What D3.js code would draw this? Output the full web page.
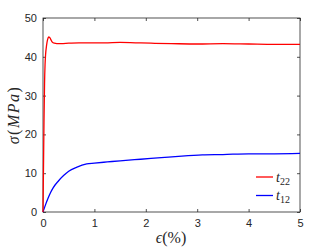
<!DOCTYPE html>
<html>
<head>
<meta charset="utf-8">
<script src="https://cdn.jsdelivr.net/npm/d3@7"></script>
<style>
  body { margin: 0; background: #fff; }
  .tick text { font-family: "Liberation Sans", Arial, sans-serif; font-size: 11px; fill: #262626; }
  .lab { font-family: "Liberation Serif", "DejaVu Serif", serif; font-style: italic; fill: #262626; }
</style>
</head>
<body>
<script>
// strain (%) and stress (MPa)
var strainT22 = [0, 0.01, 0.02, 0.03, 0.04, 0.05, 0.07, 0.09, 0.11, 0.13, 0.15, 0.18, 0.22, 0.27, 0.35, 0.5, 0.7, 0.9, 1.2, 1.5, 1.8, 2.1, 2.5, 3.0, 3.5, 4.0, 4.5, 5.0];
var stressT22 = [0, 12, 24, 33, 38, 40.5, 43, 44.5, 45.1, 45.0, 44.5, 43.8, 43.5, 43.4, 43.4, 43.5, 43.6, 43.6, 43.6, 43.7, 43.6, 43.5, 43.4, 43.3, 43.4, 43.3, 43.2, 43.2];

var strainT12 = [0, 0.05, 0.1, 0.15, 0.2, 0.3, 0.4, 0.5, 0.65, 0.85, 1.0, 1.25, 1.5, 1.9, 2.3, 2.7, 3.1, 3.5, 4.0, 4.5, 5.0];
var stressT12 = [0, 1.9, 3.6, 5.1, 6.3, 8.0, 9.4, 10.5, 11.5, 12.4, 12.6, 12.9, 13.2, 13.6, 14.0, 14.4, 14.7, 14.8, 15.0, 15.0, 15.1];

var xTicks = [0, 1, 2, 3, 4, 5];
var yTicks = [0, 10, 20, 30, 40, 50];

var width = 332, height = 249;
var plotLeft = 43, plotRight = 300, plotTop = 18, plotBottom = 212;

var svg = d3.select('body').append('svg')
  .attr('width', width)
  .attr('height', height);

var x = d3.scaleLinear().domain([0, 5]).range([plotLeft, plotRight]);
var y = d3.scaleLinear().domain([0, 50]).range([plotBottom, plotTop]);

var axisColor = '#262626';
var fmt = d3.format('d');

var drawAxis = function(axis, tx, ty) {
  var g = svg.append('g').attr('transform', 'translate(' + tx + ',' + ty + ')').call(axis);
  g.select('.domain').remove();
  g.selectAll('.tick line').attr('stroke', axisColor).attr('stroke-width', 0.8);
  return g;
};

drawAxis(d3.axisBottom(x).tickValues(xTicks).tickFormat(fmt).tickSizeInner(-3).tickPadding(7), 0, plotBottom);
drawAxis(d3.axisLeft(y).tickValues(yTicks).tickFormat(fmt).tickSizeInner(-3).tickPadding(6), plotLeft, 0);
drawAxis(d3.axisTop(x).tickValues(xTicks).tickSizeInner(-3).tickFormat(''), 0, plotTop);
drawAxis(d3.axisRight(y).tickValues(yTicks).tickSizeInner(-3).tickFormat(''), plotRight, 0);

svg.append('rect')
  .attr('x', plotLeft).attr('y', plotTop)
  .attr('width', plotRight - plotLeft).attr('height', plotBottom - plotTop)
  .attr('fill', 'none').attr('stroke', axisColor).attr('stroke-width', 0.8);

var line = d3.line().curve(d3.curveMonotoneX);

var pts = function(xs, ys) {
  return xs.map(function(v, i) { return [x(v), y(ys[i])]; });
};

svg.append('path').attr('d', line(pts(strainT12, stressT12)))
  .attr('fill', 'none').attr('stroke', '#0000ff').attr('stroke-width', 1.3);
svg.append('path').attr('d', line(pts(strainT22, stressT22)))
  .attr('fill', 'none').attr('stroke', '#ff0000').attr('stroke-width', 1.3);

// legend
var legend = [
  { name: '22', color: '#ff0000', y: 177 },
  { name: '12', color: '#0000ff', y: 195.5 }
];
legend.forEach(function(d) {
  svg.append('line').attr('x1', 256).attr('x2', 273).attr('y1', d.y).attr('y2', d.y)
    .attr('stroke', d.color).attr('stroke-width', 1.3);
  var t = svg.append('text').attr('class', 'lab').attr('x', 276).attr('y', d.y + 4.5)
    .style('font-size', '14px').text('t');
  t.append('tspan').attr('dy', 3).style('font-size', '10px').style('font-style', 'normal').text(d.name);
});

// axis labels
var xl = svg.append('text').attr('class', 'lab').attr('x', 171).attr('y', 243)
  .attr('text-anchor', 'middle').style('font-size', '16px');
xl.append('tspan').text('ϵ');
xl.append('tspan').style('font-style', 'normal').text('(%)');

var yl = svg.append('text').attr('class', 'lab')
  .attr('transform', 'translate(18.5,' + ((plotTop + plotBottom) / 2) + ') rotate(-90)')
  .attr('text-anchor', 'middle').style('font-size', '16px')
  .style('letter-spacing', '1.5px');
yl.append('tspan').text('σ');
yl.append('tspan').style('font-style', 'normal').text('(');
yl.append('tspan').text('MPa');
yl.append('tspan').style('font-style', 'normal').text(')');
</script>
</body>
</html>
